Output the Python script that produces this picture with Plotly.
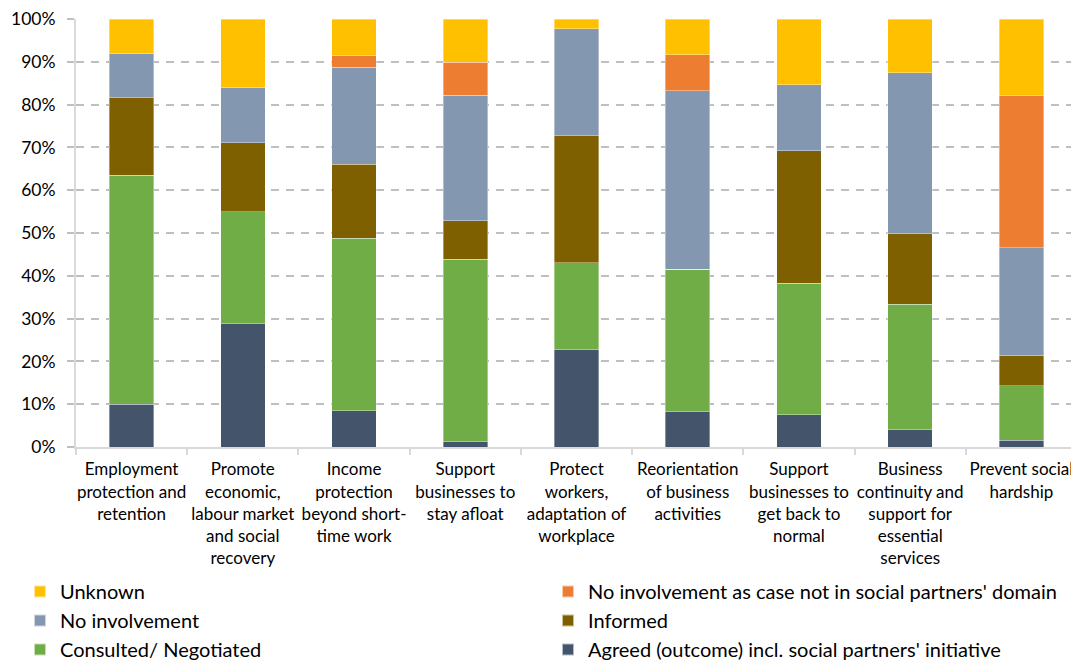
import plotly.graph_objects as go

categories = [
    "Employment<br>protection and<br>retention",
    "Promote<br>economic,<br>labour market<br>and social<br>recovery",
    "Income<br>protection<br>beyond short-<br>time work",
    "Support<br>businesses to<br>stay afloat",
    "Protect<br>workers,<br>adaptation of<br>workplace",
    "Reorientation<br>of business<br>activities",
    "Support<br>businesses to<br>get back to<br>normal",
    "Business<br>continuity and<br>support for<br>essential<br>services",
    "Prevent social<br>hardship",
]

agreed = [10.0, 28.9, 8.5, 1.3, 22.7, 8.2, 7.5, 4.0, 1.6]
consulted = [53.5, 26.1, 40.3, 42.6, 20.4, 33.3, 30.8, 29.4, 12.7]
informed = [18.1, 16.1, 17.3, 9.0, 29.6, 0.0, 30.9, 16.6, 7.1]
no_involvement = [10.3, 12.8, 22.6, 29.3, 25.0, 41.7, 15.4, 37.4, 25.1]
not_domain = [0.0, 0.0, 2.7, 7.7, 0.0, 8.5, 0.0, 0.0, 35.7]
unknown = [8.1, 16.1, 8.6, 10.1, 2.3, 8.3, 15.4, 12.6, 17.8]

series = [
    ("Agreed (outcome) incl. social partners' initiative", agreed, "#44546A", "legend2"),
    ("Consulted/ Negotiated", consulted, "#70AD47", "legend"),
    ("Informed", informed, "#7F6000", "legend2"),
    ("No involvement", no_involvement, "#8497B0", "legend"),
    ("No involvement as case not in social partners' domain", not_domain, "#ED7D31", "legend2"),
    ("Unknown", unknown, "#FFC000", "legend"),
]

# page body has an 8px margin; figure is sized to fit the 1079x662 window
W, H = 1071, 654

fig = go.Figure()
for name, vals, color, lg in series:
    fig.add_trace(go.Bar(
        x=categories, y=[v / 100 for v in vals], name=name, legend=lg,
        marker=dict(color=color, line=dict(color="rgba(255,255,255,0.6)", width=0.6)),
    ))

leg_common = dict(
    orientation="h", traceorder="reversed",
    entrywidth=620, entrywidthmode="pixels",
    xref="container", yref="container", xanchor="left", yanchor="top",
    font=dict(size=20), itemsizing="constant", tracegroupgap=0,
    bgcolor="rgba(0,0,0,0)",
)

fig.update_layout(
    barmode="stack",
    bargap=0.6,
    width=W, height=H,
    margin=dict(l=68, r=2, t=11, b=215),
    paper_bgcolor="white", plot_bgcolor="white",
    font=dict(family="Lato, 'Open Sans', sans-serif", color="#000000", size=17),
    showlegend=True,
    legend=dict(x=12 / W, y=1 - 564 / H, **leg_common),
    legend2=dict(x=540 / W, y=1 - 564 / H, **leg_common),
)
fig.update_xaxes(
    type="category", automargin=False,
    showline=True, linecolor="#D9D9D9", linewidth=2,
    ticks="outside", tickson="boundaries", ticklen=6, tickcolor="#D9D9D9", tickwidth=2,
    tickfont=dict(size=17), tickangle=0, ticklabelstandoff=6,
    showgrid=False,
)
fig.update_yaxes(
    range=[0, 1], tickformat=".0%", dtick=0.1, tick0=0, automargin=False,
    showline=True, linecolor="#D9D9D9", linewidth=2,
    ticks="outside", ticklen=7, tickcolor="#BFBFBF", tickwidth=2,
    showgrid=True, gridcolor="#BFBFBF", griddash="8px,7px", gridwidth=2,
    tickfont=dict(size=17.5), zeroline=False, ticklabelstandoff=8,
)

fig.write_html("out.html")
